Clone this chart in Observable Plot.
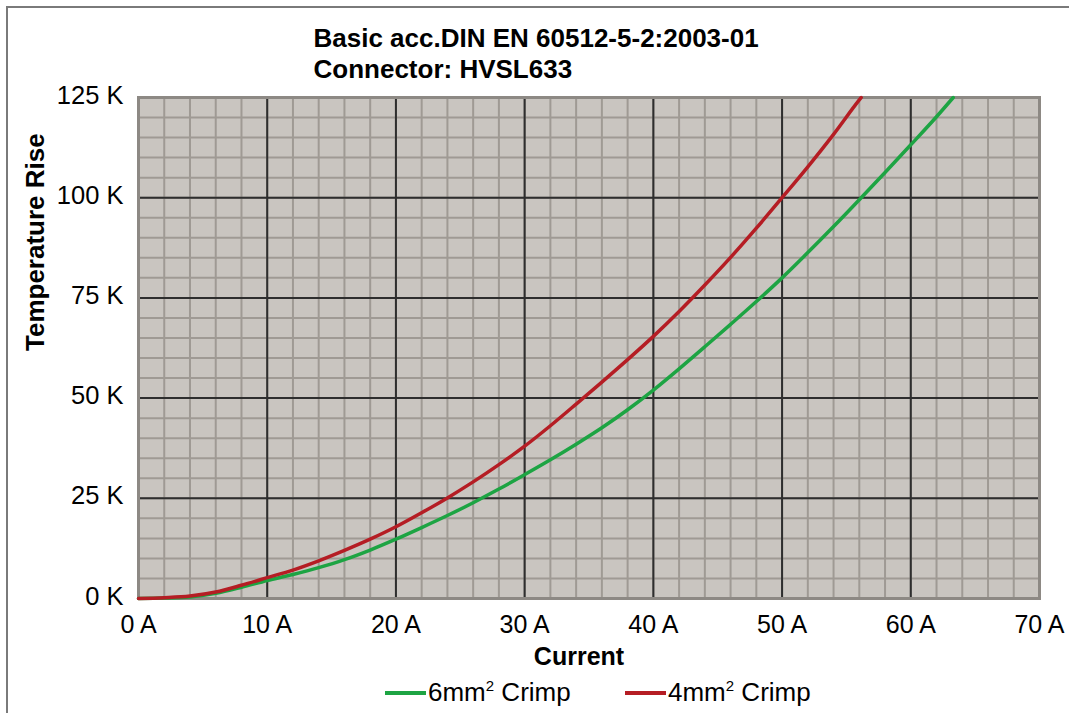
<!DOCTYPE html>
<html>
<head>
<meta charset="utf-8">
<script src="https://cdn.jsdelivr.net/npm/d3@7"></script>
<script src="https://cdn.jsdelivr.net/npm/@observablehq/plot@0.6"></script>
<style>
  html, body { margin: 0; padding: 0; background: #fff; }
  #wrap { position: relative; width: 1069px; height: 713px; overflow: hidden; font-family: "Liberation Sans", Arial, sans-serif; }
  #border { position: absolute; left: 6px; top: 6px; width: 1100px; height: 800px; border-left: 2px solid #7a7a7a; border-top: 2px solid #7a7a7a; box-sizing: border-box; pointer-events: none; }
  #legend { position: relative; height: 41px; font-size: 26px; color: #000; }
  .item { position: absolute; top: 0; height: 41px; display: flex; align-items: center; }
  .sw { display: inline-block; width: 41px; height: 4px; margin-right: 2px; }
  sup { font-size: 15px; vertical-align: 0; position: relative; top: -10px; }
</style>
</head>
<body>
<div id="wrap">
  <div id="chart"></div>
  <div id="legend"></div>
  <div id="border"></div>
</div>
<script>
// ---- data ----
const titleLines = ["Basic acc.DIN EN 60512-5-2:2003-01", "Connector: HVSL633"];
const xLabel = "Current";
const yLabel = "Temperature Rise";
const xTicks = [0, 10, 20, 30, 40, 50, 60, 70];
const yTicks = [0, 25, 50, 75, 100, 125];
const xMinor = [0,2,4,6,8,10,12,14,16,18,20,22,24,26,28,30,32,34,36,38,40,42,44,46,48,50,52,54,56,58,60,62,64,66,68,70];
const yMinor = [0,5,10,15,20,25,30,35,40,45,50,55,60,65,70,75,80,85,90,95,100,105,110,115,120,125];

const series6Name = "6mm² Crimp";
const current6 = [0,2,4,6,8,10,12,14,16,18,20,22,24,26,28,30,32,34,36,38,40,42,44,46,48,50,52,54,56,58,60,62,63.3];
const rise6    = [0,0.1,0.4,1.3,2.8,4.5,6.0,7.7,9.7,12.1,14.8,17.7,20.7,23.9,27.3,30.9,34.6,38.5,42.6,47.1,52.0,57.3,62.8,68.4,74.1,80.0,86.3,92.8,99.5,106.3,113.2,120.2,125];

const series4Name = "4mm² Crimp";
const current4 = [0,2,4,6,8,10,12,14,16,18,20,22,24,26,28,30,32,34,36,38,40,42,44,46,48,50,52,54,56,56.15];
const rise4    = [0,0.2,0.6,1.6,3.3,5.2,7.1,9.4,12.0,14.8,17.9,21.4,25.1,29.1,33.4,38.0,43.1,48.5,54.0,59.6,65.4,71.6,78.2,85.1,92.4,100,107.7,115.8,124.4,125];

const green = "#1da443";
const red = "#b51d24";

// ---- build ----
const d6 = current6.map((x, i) => ({x, y: rise6[i]}));
const d4 = current4.map((x, i) => ({x, y: rise4[i]}));
const majorX = xTicks.filter(v => v > 0 && v < 70);
const majorY = yTicks.filter(v => v > 0 && v < 125);
const font = "Liberation Sans, Arial, sans-serif";

const chart = Plot.plot({
  width: 1069,
  height: 672,
  marginLeft: 138,
  marginRight: 30,
  marginTop: 97,
  marginBottom: 74,
  style: {fontFamily: font, background: "transparent", color: "#000", overflow: "visible"},
  x: {domain: [0, 70]},
  y: {domain: [0, 125]},
  marks: [
    Plot.frame({fill: "#c9c5c0", stroke: "none"}),
    Plot.ruleX(xMinor, {stroke: "#9f9a94", strokeWidth: 2}),
    Plot.ruleY(yMinor, {stroke: "#9f9a94", strokeWidth: 2}),
    Plot.ruleX(majorX, {stroke: "#2e2e2e", strokeWidth: 2}),
    Plot.ruleY(majorY, {stroke: "#2e2e2e", strokeWidth: 2}),
    Plot.frame({stroke: "#8d8984", strokeWidth: 3}),
    Plot.line(d6, {x: "x", y: "y", stroke: green, strokeWidth: 3.5, curve: "monotone-x"}),
    Plot.line(d4, {x: "x", y: "y", stroke: red, strokeWidth: 3.5, curve: "monotone-x"}),
    Plot.axisX(xTicks, {tickSize: 0, tickPadding: 17, fontSize: 25, tickFormat: d => d + " A", label: null}),
    Plot.axisY(yTicks, {tickSize: 0, tickPadding: 15, fontSize: 25.5, dy: -2, tickFormat: d => d + " K", label: null}),
    Plot.text([xLabel], {frameAnchor: "bottom", dx: -10, dy: 58, fontSize: 25, fontWeight: "bold", lineAnchor: "middle", fill: "#000"}),
    Plot.text([yLabel], {frameAnchor: "left", rotate: -90, dx: -103, dy: 3, fontSize: 26, fontWeight: "bold", lineAnchor: "middle", fill: "#000"}),
    Plot.text([titleLines[0]], {frameAnchor: "top-left", textAnchor: "start", lineAnchor: "middle", dx: 175, dy: -59, fontSize: 26, fontWeight: "bold", fill: "#000"}),
    Plot.text([titleLines[1]], {frameAnchor: "top-left", textAnchor: "start", lineAnchor: "middle", dx: 175, dy: -28, fontSize: 26, fontWeight: "bold", fill: "#000"})
  ]
});
document.getElementById("chart").appendChild(chart);

// legend
const legend = document.getElementById("legend");
const items = [
  {name: series6Name, color: green, left: 385},
  {name: series4Name, color: red, left: 625}
];
for (const it of items) {
  const div = document.createElement("div");
  div.className = "item";
  div.style.left = it.left + "px";
  const sw = document.createElement("span");
  sw.className = "sw";
  sw.style.background = it.color;
  div.appendChild(sw);
  const label = document.createElement("span");
  const parts = it.name.split("²");
  label.innerHTML = parts[0] + "<sup>2</sup>" + parts[1];
  div.appendChild(label);
  legend.appendChild(div);
}
</script>
</body>
</html>
